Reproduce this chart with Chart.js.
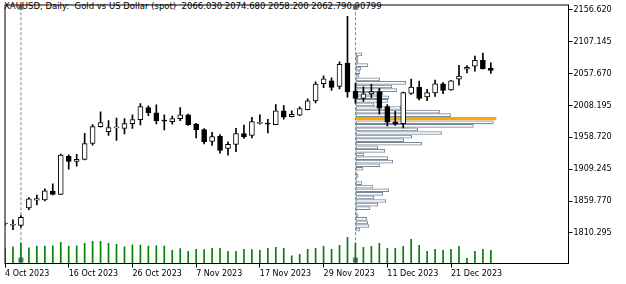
<!DOCTYPE html>
<html>
<head>
<meta charset="utf-8">
<script src="https://cdn.jsdelivr.net/npm/chart.js@4.4.1/dist/chart.umd.min.js"></script>
<style>
  html, body { margin: 0; padding: 0; background: #fff; }
  #wrap { position: relative; width: 626px; height: 284px; }
  #head { position: absolute; left: 4px; top: 1px; font: 8.5px "DejaVu Sans"; line-height: 10px; white-space: pre; color: #000; }
  canvas { position: absolute; left: 0; top: 0; }
</style>
</head>
<body>
<div id="wrap">
  <div id="head">XAUUSD, Daily:  Gold vs US Dollar (spot)  2066.030 2074.680 2058.200 2062.790 90799</div>
  <canvas id="c" width="626" height="284"></canvas>
</div>
<script>
// daily bars, 4 Oct - 29 Dec 2023
const dateLabels = [
  "4 Oct 2023", "5 Oct 2023", "6 Oct 2023", "9 Oct 2023", "10 Oct 2023", "11 Oct 2023", "12 Oct 2023", "13 Oct 2023",
  "16 Oct 2023", "17 Oct 2023", "18 Oct 2023", "19 Oct 2023", "20 Oct 2023", "23 Oct 2023", "24 Oct 2023", "25 Oct 2023",
  "26 Oct 2023", "27 Oct 2023", "30 Oct 2023", "31 Oct 2023", "1 Nov 2023", "2 Nov 2023", "3 Nov 2023", "6 Nov 2023",
  "7 Nov 2023", "8 Nov 2023", "9 Nov 2023", "10 Nov 2023", "13 Nov 2023", "14 Nov 2023", "15 Nov 2023", "16 Nov 2023",
  "17 Nov 2023", "20 Nov 2023", "21 Nov 2023", "22 Nov 2023", "23 Nov 2023", "24 Nov 2023", "27 Nov 2023", "28 Nov 2023",
  "29 Nov 2023", "30 Nov 2023", "1 Dec 2023", "4 Dec 2023", "5 Dec 2023", "6 Dec 2023", "7 Dec 2023", "8 Dec 2023",
  "11 Dec 2023", "12 Dec 2023", "13 Dec 2023", "14 Dec 2023", "15 Dec 2023", "18 Dec 2023", "19 Dec 2023", "20 Dec 2023",
  "21 Dec 2023", "22 Dec 2023", "26 Dec 2023", "27 Dec 2023", "28 Dec 2023", "29 Dec 2023"
];
const dateTickIdx = [0, 8, 16, 24, 32, 40, 48, 56];

const opens = [
  1824.2, 1822.3, 1822.1, 1849.3, 1861.3, 1861.6, 1875.5, 1870.2, 1929.3, 1921.6,
  1924.7, 1949.3, 1975.4, 1967.8, 1973.5, 1972.8, 1980.1, 1986.2, 2005.1, 1997.0,
  1984.5, 1983.1, 1987.8, 1993.9, 1979.4, 1970.8, 1952.4, 1960.5, 1941.6, 1947.8,
  1964.7, 1961.6, 1980.6, 1979.6, 1978.5, 2000.1, 1990.8, 1993.3, 2001.6, 2015.4,
  2042.0, 2046.7, 2037.9, 2074.3, 2030.8, 2019.4, 2026.2, 2029.7, 2006.7, 1982.5,
  1980.1, 2027.1, 2036.9, 2021.6, 2027.7, 2042.0, 2032.4, 2049.3, 2064.6, 2069.3,
  2078.5, 2066.03
];
const highs = [
  1826.5, 1830.9, 1837.5, 1865.2, 1869.3, 1879.0, 1886.7, 1932.8, 1931.8, 1932.4,
  1965.1, 1978.5, 1998.5, 1984.7, 1988.7, 1987.8, 1993.9, 2011.3, 2007.7, 2009.4,
  1993.9, 1991.7, 2005.1, 1995.1, 1980.5, 1972.4, 1966.7, 1963.1, 1951.8, 1972.8,
  1977.9, 1989.8, 1993.9, 1986.7, 2009.7, 2008.2, 2000.1, 2006.2, 2018.5, 2045.1,
  2054.3, 2051.3, 2075.9, 2146.6, 2042.5, 2037.4, 2041.0, 2034.8, 2009.7, 1999.0,
  2029.0, 2049.3, 2046.2, 2033.3, 2047.7, 2044.0, 2047.4, 2070.8, 2070.2, 2085.1,
  2089.7, 2074.68
];
const lows = [
  1822.5, 1815.5, 1819.0, 1846.3, 1854.0, 1860.1, 1869.3, 1869.8, 1909.3, 1913.9,
  1923.6, 1946.7, 1974.4, 1961.6, 1953.9, 1964.1, 1972.8, 1977.9, 1992.4, 1979.8,
  1970.2, 1979.4, 1984.7, 1977.4, 1957.9, 1948.7, 1946.2, 1934.4, 1931.3, 1936.4,
  1957.0, 1957.9, 1979.4, 1965.6, 1978.5, 1987.1, 1990.5, 1992.4, 2001.3, 2012.4,
  2035.9, 2031.7, 2033.9, 2021.0, 2011.8, 2014.4, 2020.5, 1994.8, 1976.4, 1977.4,
  1973.3, 2025.6, 2017.0, 2015.9, 2022.5, 2026.7, 2031.6, 2040.0, 2059.0, 2061.6,
  2064.6, 2058.2
];
const closes = [
  1825.0, 1823.0, 1834.4, 1863.2, 1863.6, 1875.9, 1870.2, 1931.3, 1921.6, 1924.7,
  1949.3, 1975.4, 1981.6, 1973.9, 1974.3, 1980.1, 1986.2, 2006.7, 1997.0, 1984.7,
  1984.0, 1987.8, 1993.9, 1978.5, 1970.8, 1951.8, 1960.1, 1938.5, 1947.8, 1964.7,
  1959.4, 1983.1, 1981.2, 1979.2, 2000.1, 1990.2, 1994.4, 2003.6, 2015.4, 2041.6,
  2049.7, 2036.4, 2072.3, 2029.3, 2019.4, 2026.2, 2029.7, 2004.1, 1982.5, 1979.4,
  2028.2, 2036.9, 2019.4, 2028.2, 2042.0, 2031.7, 2046.7, 2053.9, 2067.7, 2078.5,
  2065.6, 2062.79
];
const volumes = [
  102400, 114100, 141300, 107200, 120800, 120500, 121100, 145400, 120600, 120900,
  138600, 152200, 152400, 138500, 131800, 114000, 127700, 127500, 120800, 121000,
  120700, 90800, 102400, 84000, 97600, 95600, 104500, 104300, 84100, 83900,
  97600, 95600, 90800, 104500, 111300, 104600, 52600, 63500, 97600, 104500,
  118100, 97700, 124900, 179600, 138600, 111300, 118100, 138500, 104500, 104400,
  118100, 165900, 124900, 84000, 97600, 90800, 97500, 118100, 36200, 84000,
  97600, 90799
];

// volume profile for the marked range (price level, volume units)
const profilePrices = [
  2087.72, 2082.17, 2076.61, 2071.06, 2065.50, 2059.95, 2054.39, 2048.84, 2043.28, 2037.73,
  2032.17, 2026.62, 2021.06, 2015.51, 2009.95, 2004.40, 1998.84, 1993.29, 1987.73, 1982.18,
  1976.62, 1971.07, 1965.51, 1959.96, 1954.40, 1948.85, 1943.29, 1937.74, 1932.18, 1926.63,
  1921.07, 1915.52, 1909.96, 1904.41, 1898.85, 1893.30, 1887.74, 1882.19, 1876.63, 1871.08,
  1865.52, 1859.97, 1854.41, 1848.86, 1843.30, 1837.75, 1832.19, 1826.64, 1821.08, 1815.53
];
const profileVolumes = [
  60, 20, 20, 120, 50, 40, 30, 240, 500, 360,
  410, 270, 330, 320, 180, 450, 840, 950, 1410, 1380,
  1180, 620, 860, 560, 480, 660, 220, 290, 80, 320,
  370, 240, 70, 10, 20, 10, 60, 170, 330, 270,
  180, 300, 220, 140, 10, 20, 110, 120, 130, 40
];
const pocIndex = 18;

const rangeStart = 2;   // bar index of left range line
const rangeEnd = 44;    // bar index of right range line, profile starts here
const priceTicks = [1810.295, 1859.770, 1909.245, 1958.720, 2008.195, 2057.670, 2107.145, 2156.620];

const yMin = 1762.9, yMax = 2164.3;

const bodies = opens.map((o, i) => ({ x: i, y: [o, closes[i]] }));
const wicks = lows.map((l, i) => ({ x: i, y: [l, highs[i]] }));
const volBars = volumes.map((v, i) => ({ x: i, y: v }));
const profile = profilePrices.map((p, k) => ({ x: profileVolumes[k], y: p }));

// black frame round the plot area
const framePlugin = {
  id: "frame",
  afterDraw(chart) {
    const { ctx, chartArea: a } = chart;
    ctx.save();
    ctx.strokeStyle = "#000";
    ctx.lineWidth = 1;
    ctx.strokeRect(a.left, a.top, a.right - a.left, a.bottom - a.top);
    ctx.restore();
  }
};

Chart.defaults.font.family = "DejaVu Sans";
Chart.defaults.font.size = 8;
Chart.defaults.color = "#000";

new Chart(document.getElementById("c"), {
  data: {
    datasets: [
      {
        type: "bar",
        indexAxis: "y",
        xAxisID: "xp",
        yAxisID: "y",
        data: profile,
        barThickness: 3,
        borderWidth: 1,
        borderSkipped: false,
        grouped: false,
        backgroundColor: (c) => c.dataIndex === pocIndex ? "#ffa500" : "#ffffff",
        borderColor: (c) => c.dataIndex === pocIndex ? "#ffa500" : "#778899",
        order: 5
      },
      {
        type: "line",
        xAxisID: "x",
        yAxisID: "y",
        data: [{ x: rangeStart, y: 2160.8 }, { x: rangeStart, y: 1768.3 }],
        borderColor: "#778899",
        borderWidth: 1,
        borderDash: [3, 2],
        pointStyle: "rect",
        pointRadius: 3,
        pointBackgroundColor: "#4f5b68",
        pointBorderColor: "#778899",
        pointBorderWidth: 1,
        order: 4
      },
      {
        type: "line",
        xAxisID: "x",
        yAxisID: "y",
        data: [{ x: rangeEnd, y: 2160.8 }, { x: rangeEnd, y: 1768.3 }],
        borderColor: "#778899",
        borderWidth: 1,
        borderDash: [3, 2],
        pointStyle: "rect",
        pointRadius: 3,
        pointBackgroundColor: "#4f5b68",
        pointBorderColor: "#778899",
        pointBorderWidth: 1,
        order: 4
      },
      {
        type: "bar",
        xAxisID: "x",
        yAxisID: "yv",
        data: volBars,
        barThickness: 1,
        grouped: false,
        backgroundColor: "#008000",
        order: 3
      },
      {
        type: "bar",
        xAxisID: "x",
        yAxisID: "y",
        data: wicks,
        barThickness: 1,
        grouped: false,
        backgroundColor: "#000",
        order: 2
      },
      {
        type: "bar",
        xAxisID: "x",
        yAxisID: "y",
        data: bodies,
        barThickness: 5,
        minBarLength: 1,
        grouped: false,
        borderWidth: 1,
        borderSkipped: false,
        borderColor: "#000",
        backgroundColor: (c) => closes[c.dataIndex] < opens[c.dataIndex] ? "#000" : "#fff",
        order: 1
      }
    ]
  },
  options: {
    responsive: false,
    animation: false,
    layout: { padding: { left: 2.5, top: 2.5, right: 0, bottom: 0 } },
    plugins: { legend: { display: false }, tooltip: { enabled: false } },
    scales: {
      x: {
        type: "linear",
        position: "bottom",
        offset: false,
        min: 0,
        max: 70.75,
        afterBuildTicks: (s) => { s.ticks = dateTickIdx.map((v) => ({ value: v })); },
        afterFit: (s) => { s.height = 20.5; s.paddingLeft = 0; s.paddingRight = 0; },
        ticks: { autoSkip: false, maxRotation: 0, align: "start", padding: 2, callback: (v) => dateLabels[v] },
        grid: { offset: false, drawOnChartArea: false, tickLength: 4, color: "#000" },
        border: { color: "#000" }
      },
      y: {
        type: "linear",
        position: "right",
        offset: false,
        min: yMin,
        max: yMax,
        afterBuildTicks: (s) => { s.ticks = priceTicks.map((v) => ({ value: v })); },
        afterFit: (s) => { s.width = 57.5; s.paddingTop = 0; s.paddingBottom = 0; },
        ticks: { padding: 1, callback: (v) => v.toFixed(3) },
        grid: { offset: false, drawOnChartArea: false, tickLength: 4, color: "#000" },
        border: { color: "#000" }
      },
      yv: { type: "linear", display: false, offset: false, min: 0, max: 1780000 },
      // profile length axis, zero sits on the right range line
      xp: { type: "linear", display: false, offset: false, min: -3525, max: 2135 }
    }
  },
  plugins: [framePlugin]
});
</script>
</body>
</html>
